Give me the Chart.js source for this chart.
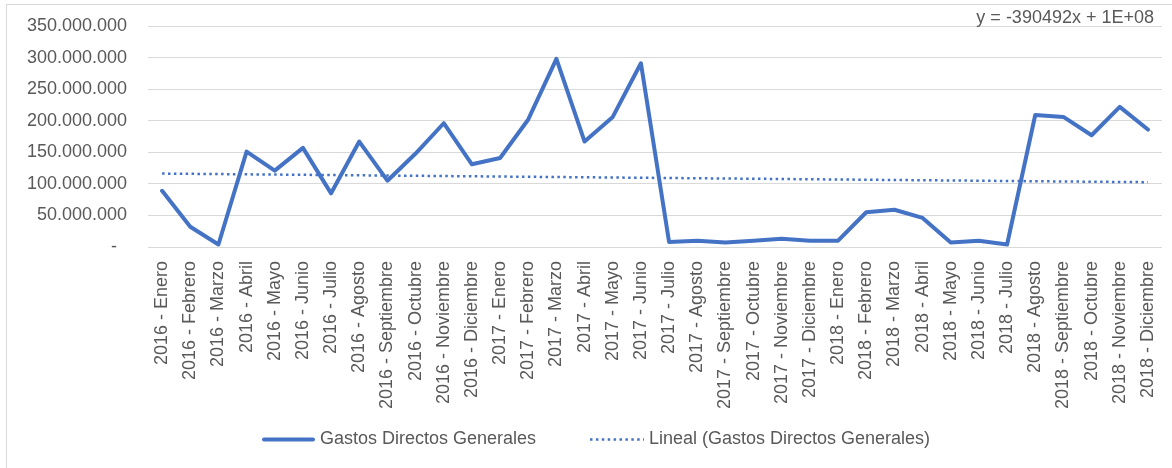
<!DOCTYPE html>
<html>
<head>
<meta charset="utf-8">
<style>
  html, body { margin: 0; padding: 0; background: #ffffff; }
  #wrap { position: relative; width: 1172px; height: 468px; }
</style>
<script src="https://cdn.jsdelivr.net/npm/chart.js@4/dist/chart.umd.min.js"></script>
</head>
<body>
<div id="wrap"><canvas id="chart" width="1172" height="468"></canvas></div>
<script>
// Monthly categories, 2016–2018
const years = ['2016', '2017', '2018'];
const months = ['Enero', 'Febrero', 'Marzo', 'Abril', 'Mayo', 'Junio', 'Julio',
  'Agosto', 'Septiembre', 'Octubre', 'Noviembre', 'Diciembre'];
const categories = [];
years.forEach(y => months.forEach(m => categories.push(y + ' - ' + m)));

// Gastos Directos Generales (pesos)
const gastos2016 = [89000000, 32000000, 4000000, 151000000, 121000000, 157000000,
  85000000, 167000000, 105000000, 148000000, 196000000, 131000000];
const gastos2017 = [141000000, 202000000, 298000000, 167000000, 206000000, 291000000,
  8000000, 10000000, 7000000, 10000000, 13000000, 10000000];
const gastos2018 = [10000000, 55000000, 59000000, 46000000, 7000000, 10000000,
  4000000, 209000000, 206000000, 177000000, 222000000, 186000000];
const gastos = gastos2016.concat(gastos2017, gastos2018);

// Linear trend: slope as printed in the equation, intercept through the mean point
const trendSlope = -390492;
const trendLabel = 'y = -390492x + 1E+08';
const meanX = (gastos.length + 1) / 2;
const meanY = gastos.reduce((a, b) => a + b, 0) / gastos.length;
const trendIntercept = meanY - trendSlope * meanX;
const trend = gastos.map((_, i) => trendIntercept + trendSlope * (i + 1));

// Y axis ticks
const yMin = 0, yMax = 350000000, yStep = 50000000;

const BLUE = '#4472C4';
const TEXT = '#595959';
const FONT = '"Liberation Sans", Arial, sans-serif';

function fmtThousands(v) {
  if (v === 0) return '-  ';
  return Math.round(v).toString().replace(/\B(?=(\d{3})+(?!\d))/g, '.');
}

// Outer frame, equation text and legend
const decorations = {
  id: 'decorations',
  beforeDraw(chart) {
    const ctx = chart.ctx;
    ctx.save();
    ctx.fillStyle = '#ffffff';
    ctx.fillRect(0, 0, chart.width, chart.height);
    ctx.strokeStyle = '#d9d9d9';
    ctx.lineWidth = 1;
    ctx.strokeRect(6.5, 4.5, chart.width + 20, chart.height + 20);
    ctx.restore();
  },
  afterDraw(chart) {
    const ctx = chart.ctx;
    ctx.save();
    ctx.font = '18px ' + FONT;
    ctx.fillStyle = TEXT;
    ctx.textBaseline = 'middle';
    ctx.textAlign = 'right';
    ctx.fillText(trendLabel, 1154, 18);

    // legend
    const ds = chart.data.datasets;
    const ly = 439.5;
    ctx.textAlign = 'left';
    // solid swatch
    ctx.strokeStyle = BLUE;
    ctx.lineWidth = 4;
    ctx.lineCap = 'round';
    ctx.beginPath();
    ctx.moveTo(264, ly);
    ctx.lineTo(313, ly);
    ctx.stroke();
    ctx.fillText(ds[0].label, 320, ly);
    // dotted swatch
    ctx.lineCap = 'butt';
    ctx.lineWidth = 2.5;
    ctx.setLineDash([2.5, 3.4]);
    ctx.beginPath();
    ctx.moveTo(590, ly);
    ctx.lineTo(644, ly);
    ctx.stroke();
    ctx.setLineDash([]);
    ctx.fillText(ds[1].label, 649, ly);
    ctx.restore();
  }
};

new Chart(document.getElementById('chart'), {
  type: 'line',
  data: {
    labels: categories,
    datasets: [
      {
        label: 'Gastos Directos Generales',
        data: gastos,
        borderColor: BLUE,
        backgroundColor: BLUE,
        borderWidth: 4,
        tension: 0,
        pointRadius: 0,
        pointHoverRadius: 0,
        borderJoinStyle: 'round',
        borderCapStyle: 'round',
        order: 1
      },
      {
        label: 'Lineal (Gastos Directos Generales)',
        data: trend,
        borderColor: BLUE,
        backgroundColor: BLUE,
        borderWidth: 2.5,
        borderDash: [2.5, 3.4],
        tension: 0,
        pointRadius: 0,
        pointHoverRadius: 0,
        order: 2
      }
    ]
  },
  options: {
    responsive: false,
    animation: false,
    devicePixelRatio: 1,
    layout: { padding: { top: 26, left: 0, right: 10, bottom: 0 } },
    plugins: {
      legend: { display: false },
      tooltip: { enabled: false }
    },
    scales: {
      x: {
        offset: true,
        grid: { display: false },
        border: { display: false },
        ticks: {
          autoSkip: false,
          maxRotation: 90,
          minRotation: 90,
          padding: 6,
          color: TEXT,
          font: { family: FONT, size: 18 }
        },
        afterFit(scale) {
          scale.height = 468 - 247;
          scale.paddingLeft = 0;
          scale.paddingRight = 0;
        }
      },
      y: {
        min: yMin,
        max: yMax,
        grid: { color: '#d9d9d9', lineWidth: 1, drawTicks: false },
        border: { display: false },
        ticks: {
          stepSize: yStep,
          padding: 21,
          color: TEXT,
          font: { family: FONT, size: 18 },
          callback: (v) => fmtThousands(v)
        },
        afterFit(scale) {
          scale.width = 148;
          scale.paddingTop = 0;
          scale.paddingBottom = 0;
        }
      }
    }
  },
  plugins: [decorations]
});
</script>
</body>
</html>
